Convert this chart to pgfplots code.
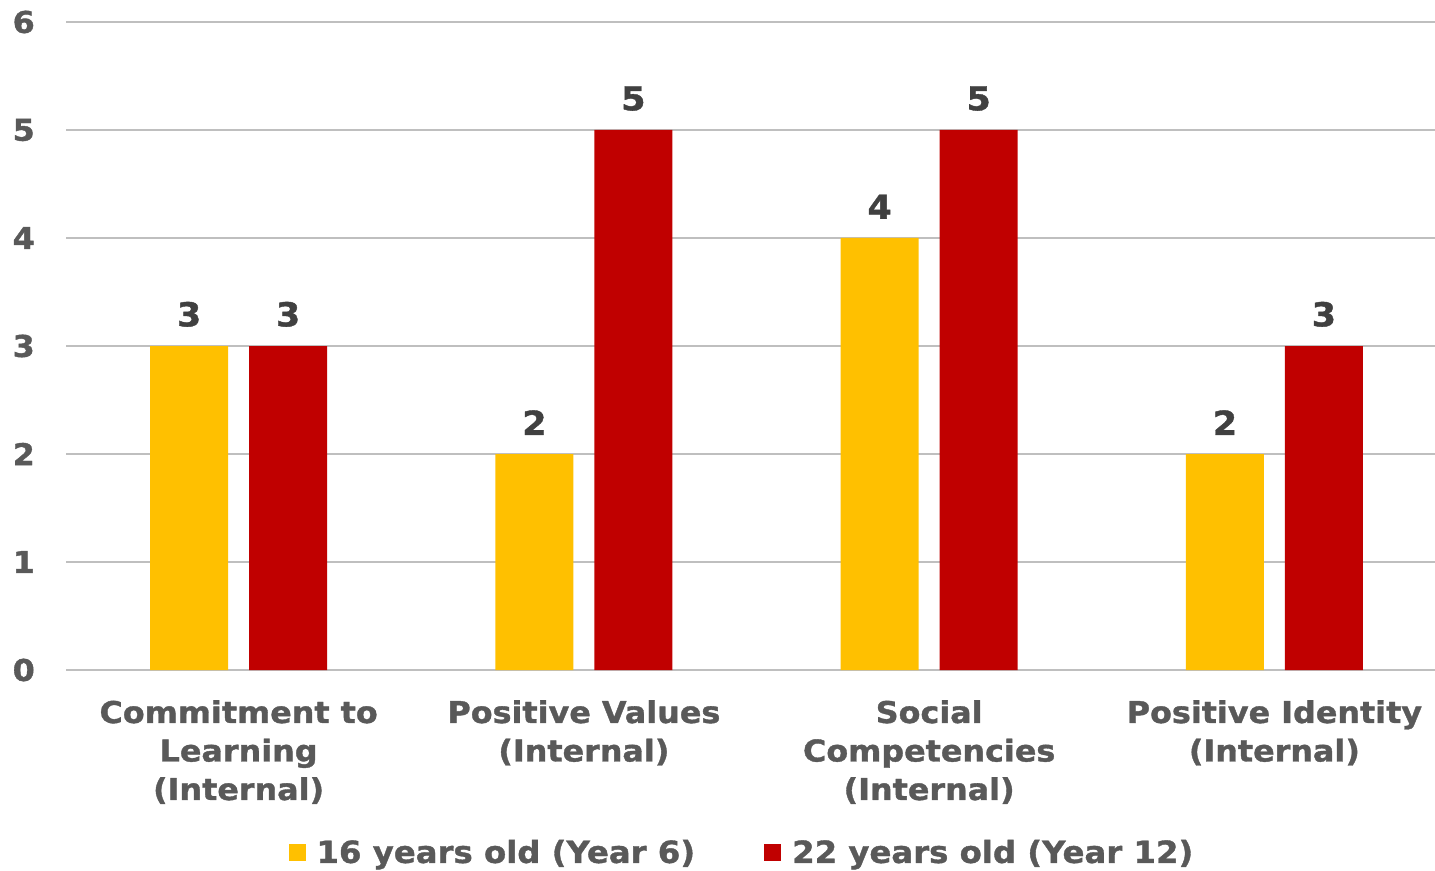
\documentclass[border=0pt]{standalone}
\usepackage{pgfplots}
\pgfplotsset{compat=1.18}
\usepackage{fontspec}
\setmainfont{DejaVu Sans}[FakeStretch=1.06, BoldFeatures={FakeBold=1.2}]
\definecolor{cyel}{HTML}{FFC000}
\definecolor{cred}{HTML}{C00000}
\definecolor{ctxt}{HTML}{595959}
\definecolor{clab}{HTML}{404040}
\definecolor{cgrid}{HTML}{BFBFBF}
\begin{document}
\begin{tikzpicture}
\begin{axis}[
  at={(0,0)}, anchor=south west,
  scale only axis,
  width=1369bp, height=648bp,
  ybar=21bp, bar width=78bp,
  xmin=-0.5, xmax=3.465,
  ymin=0, ymax=6,
  ytick={0,1,2,3,4,5,6},
  xtick=data,
  xticklabels={{Commitment to\\Learning\\(Internal)},{Positive Values\\(Internal)},{Social\\Competencies\\(Internal)},{Positive Identity\\(Internal)}},
  axis line style={draw=none},
  major tick length=0pt,
  ymajorgrids,
  grid style={color=cgrid, line width=1.6bp},
  clip=false,
  /pgf/number format/assume math mode=true,
  font=\fontsize{30bp}{38.5bp}\selectfont\bfseries,
  yticklabel style={text=ctxt, inner sep=0pt, xshift=-31bp, anchor=east, font=\fontsize{30bp}{34bp}\selectfont\bfseries},
  xticklabel style={text=ctxt, align=center, inner sep=0pt, anchor=north, yshift=-30bp},
  nodes near coords,
  nodes near coords style={text=clab, anchor=south, inner sep=0pt, yshift=19bp, font=\fontsize{33bp}{38bp}\selectfont\bfseries},
  legend columns=2,
  legend style={draw=none, fill=none, at={(0.493,-0.281)}, anchor=center, text=ctxt,
    font=\fontsize{30.5bp}{34bp}\selectfont\bfseries,
    /tikz/every even column/.append style={column sep=69bp},
    /tikz/every odd column/.append style={column sep=0bp},
    nodes={inner sep=0pt}},
  legend image code/.code={\fill[#1] (0bp,-8.5bp) rectangle (17bp,8.5bp);},
]
\addplot[fill=cyel, draw=none] coordinates {(0,3) (1,2) (2,4) (3,2)};
\addplot[fill=cred, draw=none] coordinates {(0,3) (1,5) (2,5) (3,3)};
\legend{\hspace{11bp}16 years old (Year 6),\hspace{11bp}22 years old (Year 12)}
\end{axis}
\pgfresetboundingbox
\path[use as bounding box] (-66bp,-201bp) rectangle (1369bp,670bp);
\end{tikzpicture}
\end{document}
